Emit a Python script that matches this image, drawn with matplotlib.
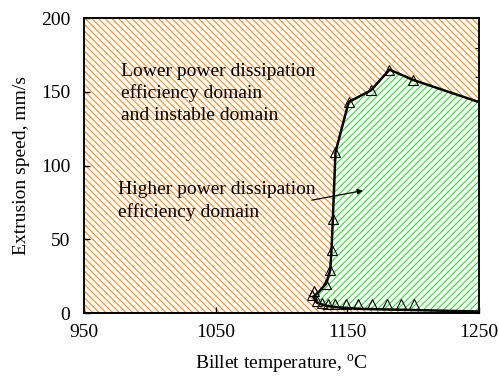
import matplotlib
matplotlib.use("Agg")
import matplotlib.pyplot as plt
from matplotlib.ticker import MultipleLocator

plt.rcParams["font.family"] = ["Liberation Serif", "DejaVu Serif"]
plt.rcParams["mathtext.fontset"] = "custom"
plt.rcParams["mathtext.rm"] = "Liberation Serif"
plt.rcParams["hatch.linewidth"] = 0.8

# Processing-map boundary (billet temperature in degC, extrusion speed in mm/s)
upper_T = [1125, 1134, 1137, 1138, 1139, 1141, 1151, 1168, 1182, 1200]
upper_v = [15, 20, 29, 43, 64, 109, 143, 151, 165, 158]
lower_T = [1123, 1127, 1131, 1135, 1141, 1149, 1158, 1169, 1180, 1191, 1201]
lower_v = [12, 8, 6.5, 6, 6, 6, 6, 6, 6, 6, 6]

boundary_T = [1250, 1200, 1182, 1168, 1151, 1141, 1139, 1138, 1137, 1134,
              1128, 1124, 1127, 1133, 1143, 1160, 1200, 1250]
boundary_v = [143, 158, 165, 151, 143, 109, 64, 43, 29, 20,
              14, 11, 7, 5, 3.8, 2.8, 2, 1]

x_ticks = [950, 1050, 1150, 1250]
y_ticks = [0, 50, 100, 150, 200]

orange = "#ff8a1c"
green = "#2ee02e"

fig = plt.figure(figsize=(4.99, 3.77), dpi=100)
ax = fig.add_axes([84 / 499, 1 - 313 / 377, 395 / 499, 295 / 377])
ax.set_xlim(950, 1250)
ax.set_ylim(0, 200)

# unstable / low-efficiency background
ax.axvspan(950, 1250, facecolor="white", edgecolor=orange, hatch="\\" * 5,
           linewidth=0, zorder=0)
# high-efficiency domain
ax.fill(boundary_T, boundary_v, facecolor="white", edgecolor=green,
        hatch="/" * 5, linewidth=0, zorder=1)

ax.plot(boundary_T, boundary_v, color="black", linewidth=1.8, zorder=3)
ax.plot(upper_T, upper_v, linestyle="none", marker="^", markersize=7,
        markerfacecolor="none", markeredgecolor="black", markeredgewidth=0.8, zorder=4)
ax.plot(lower_T, lower_v, linestyle="none", marker="^", markersize=7,
        markerfacecolor="none", markeredgecolor="black", markeredgewidth=0.8, zorder=4)

ax.text(978, 149, "Lower power dissipation\nefficiency domain\nand instable domain",
        fontsize=14, ha="left", va="center", linespacing=1.35, zorder=5)
ax.text(976, 76, "Higher power dissipation\nefficiency domain",
        fontsize=14, ha="left", va="center", linespacing=1.35, zorder=5)
ax.annotate("", xy=(1162, 83), xytext=(1123, 76.5),
            arrowprops=dict(arrowstyle="-|>", color="black", lw=0.9,
                            mutation_scale=8, shrinkA=0, shrinkB=0), zorder=5)

ax.set_xticks(x_ticks)
ax.set_yticks(y_ticks)
ax.tick_params(direction="in", length=4, labelsize=14, width=1)
ax.tick_params(axis="x", pad=8)
ax.tick_params(axis="y", pad=10)
for s in ax.spines.values():
    s.set_linewidth(1.4)
    s.set_zorder(6)

right = ax.secondary_yaxis("right")
right.yaxis.set_major_locator(MultipleLocator(20))
right.tick_params(direction="in", length=3, labelright=False)
right.spines["right"].set_visible(False)

ax.set_xlabel(r"Billet temperature, $^{\rm o}$C", fontsize=14, labelpad=8)
ax.set_ylabel("Extrusion speed, mm/s", fontsize=14, labelpad=8)

fig.savefig("out.png", dpi=100)
